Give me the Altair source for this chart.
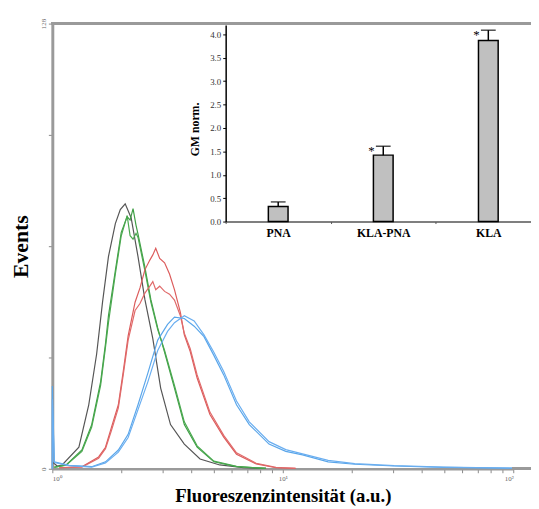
import altair as alt
import pandas as pd

# ---------------- histogram data (fluorescence intensity vs events) ----------------
black_x = [1.000, 1.050, 1.103, 1.304, 1.439, 1.557, 1.652, 1.752, 1.877, 1.972, 2.071, 2.197,
           2.354, 2.521, 2.729, 2.952, 3.257, 3.738, 4.375, 5.328, 6.746, 8.459]
black_y = [2.0, 0.8, 1.1, 6.2, 18.4, 33.0, 48.0, 61.0, 70.5, 74.5, 76.2, 72.2,
           61.0, 48.7, 37.4, 23.2, 12.7, 7.1, 2.8, 1.1, 0.3, 0.1]

green_x = [1.020, 1.148, 1.344, 1.482, 1.620, 1.701, 1.752, 1.877, 1.991, 2.112, 2.175, 2.240,
           2.308, 2.354, 2.521, 2.675, 2.866, 3.070, 3.388, 3.738, 4.249, 5.022, 6.297, 8.459]
green1_y = [0.5, 1.1, 5.4, 12.7, 25.0, 36.0, 44.0, 57.0, 68.0, 72.5, 71.5, 74.8,
            70.0, 67.5, 58.0, 48.7, 40.5, 33.5, 23.2, 12.7, 6.2, 2.0, 0.6, 0.1]
green2_y = [0.4, 1.0, 5.0, 12.0, 24.0, 35.0, 42.0, 56.0, 67.0, 72.8, 67.0, 66.0,
            67.7, 66.5, 57.0, 48.0, 40.0, 34.0, 24.0, 13.5, 6.6, 2.2, 0.7, 0.1]

red_x = [1.071, 1.344, 1.588, 1.701, 1.805, 1.934, 2.031, 2.133, 2.286, 2.401, 2.521, 2.649,
         2.729, 2.810, 2.923, 3.070, 3.225, 3.388, 3.594, 3.738, 3.966, 4.249, 4.829, 5.542,
         6.297, 7.665, 9.335, 11.36]
red1_y = [0.3, 0.6, 3.4, 6.2, 11.9, 18.4, 28.0, 38.2, 47.9, 52.0, 57.2, 60.0,
          61.5, 63.4, 60.5, 59.2, 56.0, 51.5, 45.0, 38.5, 33.7, 26.1, 15.6, 9.1,
          4.2, 1.4, 0.3, 0.1]
red2_y = [0.3, 0.5, 3.0, 5.8, 11.0, 17.5, 27.0, 37.0, 45.5, 47.5, 50.5, 52.5,
          53.8, 51.5, 52.5, 51.0, 50.2, 48.5, 44.0, 39.0, 34.5, 27.0, 16.3, 9.6,
          4.6, 1.6, 0.4, 0.1]

blue_x = [1.000, 1.000, 1.020, 1.182, 1.482, 1.701, 1.934, 2.133, 2.354, 2.597, 2.866, 3.162,
          3.388, 3.738, 4.125, 4.551, 5.022, 5.542, 6.297, 7.155, 8.713, 10.30, 12.18, 15.73,
          20.51, 30.41, 49.73, 100.0]
blue1_y = [0.0, 23.8, 2.0, 1.0, 0.6, 2.0, 5.4, 9.9, 18.4, 27.5, 37.0, 41.5,
           43.6, 43.2, 41.0, 38.0, 32.6, 27.0, 18.4, 12.7, 7.1, 5.0, 4.0, 2.0,
           1.3, 0.8, 0.4, 0.2]
blue2_y = [0.0, 20.0, 1.8, 0.9, 0.5, 1.7, 4.8, 9.0, 17.0, 25.0, 34.0, 39.5,
           42.0, 44.0, 42.5, 38.5, 33.5, 28.0, 19.5, 13.5, 7.8, 5.5, 4.3, 2.4,
           1.5, 0.9, 0.5, 0.2]

curve_names = ["black", "green1", "green2", "red1", "red2", "blue1", "blue2"]
curve_colors = ["#555555", "#3f9f45", "#4aa84f", "#dc5c5c", "#e06a6a", "#5aa6ea", "#6aaef0"]

x_ticks = [1, 2, 3, 4, 5, 6, 7, 8, 9, 10, 20, 30, 40, 50, 60, 70, 80, 90, 100]
y_ticks = [0, 32, 64, 96, 128]

# ---------------- inset bar data ----------------
inset_cat = ["PNA", "KLA-PNA", "KLA"]
inset_gm = [0.32, 1.42, 3.87]
inset_err_top = [0.42, 1.61, 4.09]
inset_star = ["", "*", "*"]
inset_ticks = [0.0, 0.5, 1.0, 1.5, 2.0, 2.5, 3.0, 3.5, 4.0]

rows = []
for name, xs, ys in [("black", black_x, black_y), ("green1", green_x, green1_y),
                     ("green2", green_x, green2_y), ("red1", red_x, red1_y),
                     ("red2", red_x, red2_y), ("blue1", blue_x, blue1_y),
                     ("blue2", blue_x, blue2_y)]:
    for i, (a, b) in enumerate(zip(xs, ys)):
        rows.append({"curve": name, "intensity": a, "events": b, "idx": i})
hist = pd.DataFrame(rows)

bars_df = pd.DataFrame({"sample": inset_cat, "gm": inset_gm,
                        "top": inset_err_top, "star": inset_star})

serif = "Liberation Serif"

lines = alt.Chart(hist).mark_line(strokeWidth=1.2).encode(
    x=alt.X("intensity:Q",
            scale=alt.Scale(type="log", domain=[1, 100], nice=False),
            axis=alt.Axis(values=x_ticks, grid=False, domainColor="#9a9a9a", domainWidth=2.5,
                          tickColor="#888", tickSize=4, tickWidth=1,
                          labelExpr="datum.value == 1 ? '10⁰' : datum.value == 10 ? '10¹' : datum.value == 100 ? '10²' : ''",
                          labelFontSize=7, labelColor="#666", labelFont=serif, labelPadding=2,
                          title="Fluoreszenzintensität (a.u.)", titleFont=serif, titleFontSize=19,
                          titleFontWeight="bold", titleColor="#000", titleBaseline="alphabetic",
                          titleY=33)),
    y=alt.Y("events:Q",
            scale=alt.Scale(domain=[0, 128], nice=False),
            axis=alt.Axis(values=y_ticks, grid=False, domainColor="#9a9a9a", domainWidth=3,
                          tickColor="#888", tickSize=4, tickWidth=1,
                          labelExpr="datum.value == 0 || datum.value == 128 ? datum.label : ''",
                          labelFontSize=7, labelColor="#666", labelFont=serif, labelAngle=-90,
                          labelPadding=2, labelAlign="center", labelBaseline="bottom",
                          title="Events", titleFont=serif, titleFontSize=22, titleFontWeight="bold",
                          titleColor="#000", titleX=-20, titleY=226)),
    color=alt.Color("curve:N", scale=alt.Scale(domain=curve_names, range=curve_colors), legend=None),
    order=alt.Order("idx:Q"),
)

frame = alt.Chart(hist).mark_rule(color="#9a9a9a", strokeWidth=2.5).encode(
    x=alt.value(-1), x2=alt.value(490), y=alt.value(0)
)
base_ext = alt.Chart(hist).mark_rule(color="#9a9a9a", strokeWidth=2.5).encode(
    x=alt.value(467), x2=alt.value(486), y=alt.value(452)
)

main = alt.layer(lines, frame, base_ext)

x_in = alt.X("sample:N", sort=inset_cat,
             scale=alt.Scale(domain=inset_cat, range=[176, 496], paddingInner=0, paddingOuter=0),
             axis=alt.Axis(orient="bottom", offset=-251, tickBand="extent", domainColor="#555",
                           domainWidth=1.5, tickColor="#555", tickSize=2, labelAngle=0,
                           labelFont=serif, labelFontSize=12, labelFontWeight="bold",
                           labelColor="#000", labelPadding=4, title=None))
y_in_scale = alt.Scale(domain=[0, 4.2], range=[201, 1.5], nice=False)

bars = alt.Chart(bars_df).mark_bar(size=20, color="#c0c0c0", stroke="#000", strokeWidth=1.5).encode(
    x=x_in,
    y=alt.Y("gm:Q", scale=y_in_scale,
            axis=alt.Axis(orient="left", offset=-176, values=inset_ticks, format=".1f", grid=False,
                          domainColor="#000", domainWidth=1.5, tickColor="#000", tickSize=3,
                          labelFont=serif, labelFontSize=9, labelColor="#333", labelPadding=2,
                          title="GM norm.", titleFont=serif, titleFontSize=12,
                          titleFontWeight="bold", titleColor="#000", titleX=-25, titleY=107)),
)
err = alt.Chart(bars_df).mark_rule(color="#000", strokeWidth=1.5).encode(
    x=alt.X("sample:N", sort=inset_cat), y=alt.Y("gm:Q"), y2="top:Q"
)
cap = alt.Chart(bars_df).mark_tick(color="#000", size=15, thickness=1.5).encode(
    x=alt.X("sample:N", sort=inset_cat), y=alt.Y("top:Q")
)
stars = alt.Chart(bars_df).mark_text(font=serif, fontSize=13, dx=-12, dy=5, color="#000").encode(
    x=alt.X("sample:N", sort=inset_cat), y=alt.Y("top:Q"), text="star:N"
)
inset = alt.layer(bars, err, cap, stars)

chart = alt.layer(main, inset).resolve_scale(
    x="independent", y="independent"
).properties(
    width=468, height=452,
    padding={"left": 45, "top": 12, "right": 18, "bottom": 37},
    autosize=alt.AutoSizeParams(type="none"),
).configure_view(stroke=None)

chart.save("out.html", embed_options={"renderer": "svg", "actions": False})
